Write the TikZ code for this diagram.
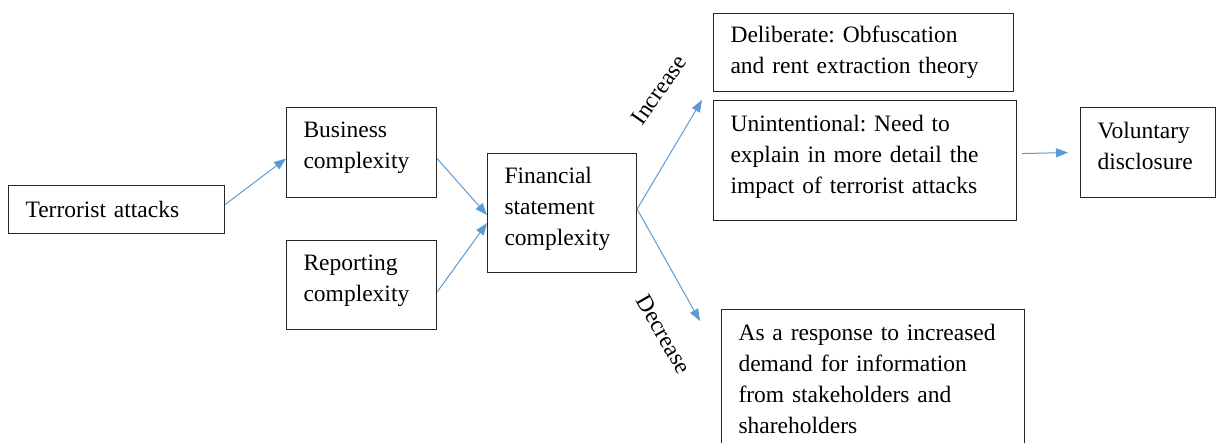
\documentclass[tikz,border=0pt]{standalone}
\usepackage{fontspec}
\setmainfont{Liberation Serif}
\usetikzlibrary{arrows.meta}
\definecolor{arr}{HTML}{5B9BD5}
\frenchspacing
\begin{document}
\begin{tikzpicture}[x=1pt,y=-1pt,
 bx/.style={draw=black!85, line width=1.1pt, anchor=north west, align=left, inner xsep=17pt, inner ysep=0pt, font=\fontsize{23.5}{31}\selectfont, execute at begin node={\hyphenpenalty=10000\relax\frenchspacing}},
 lift/.style={execute at end node={\endgraf\nointerlineskip\vbox to #1{}}},
 conn/.style={draw=arr, line width=1pt, -{Triangle[length=12pt,width=9pt]}},
 lbl/.style={font=\fontsize{23.5}{28}\selectfont, inner sep=1pt}]
\useasboundingbox (0,0) rectangle (1217,442);
\clip (0,0) rectangle (1217,442);
\node[bx, text width=182pt, minimum height=48pt] (ta) at (8,185) {Terrorist attacks};
\node[bx, lift=10pt, text width=116pt, minimum height=90pt] (bc) at (286,107) {Business\\complexity};
\node[bx, lift=9pt, text width=116pt, minimum height=89pt] (rc) at (286,240) {Reporting\\complexity};
\node[bx, lift=8pt, text width=115pt, minimum height=119pt] (fs) at (487,153) {Financial\\statement\\complexity};
\node[bx, text width=266pt, minimum height=78pt] (de) at (713,13) {Deliberate: Obfuscation\\and rent extraction theory};
\node[bx, lift=7pt, text width=269pt, minimum height=120pt] (un) at (713,100) {Unintentional: Need to\\explain in more detail the\\impact of terrorist attacks};
\node[bx, lift=14pt, text width=101pt, minimum height=90pt] (vd) at (1080,107) {Voluntary\\disclosure};
\node[bx, text width=269pt, minimum height=138pt] (re) at (721,309) {As a response to increased\\demand for information\\from stakeholders and\\shareholders};
\coordinate (inc) at (702,100);
\coordinate (dec) at (700,321);
\draw[conn] ([yshift=5pt]ta.east) -- ([yshift=-6pt]bc.west);
\draw[conn] ([yshift=-6pt]bc.east) -- ([yshift=-2pt]fs.west);
\draw[conn] ([yshift=-7pt]rc.east) -- ([yshift=-10pt]fs.west);
\draw[conn] ([yshift=4pt]fs.east) -- (inc);
\draw[conn] ([yshift=4pt]fs.east) -- (dec);
\draw[conn] ([xshift=5pt,yshift=7pt]un.east) -- ([xshift=-12pt]vd.west);
\node[lbl, rotate=55] (il) at (659,90) {Increase};
\node[lbl, rotate=-60] (dl) at (664,334) {Decrease};
\end{tikzpicture}
\end{document}
